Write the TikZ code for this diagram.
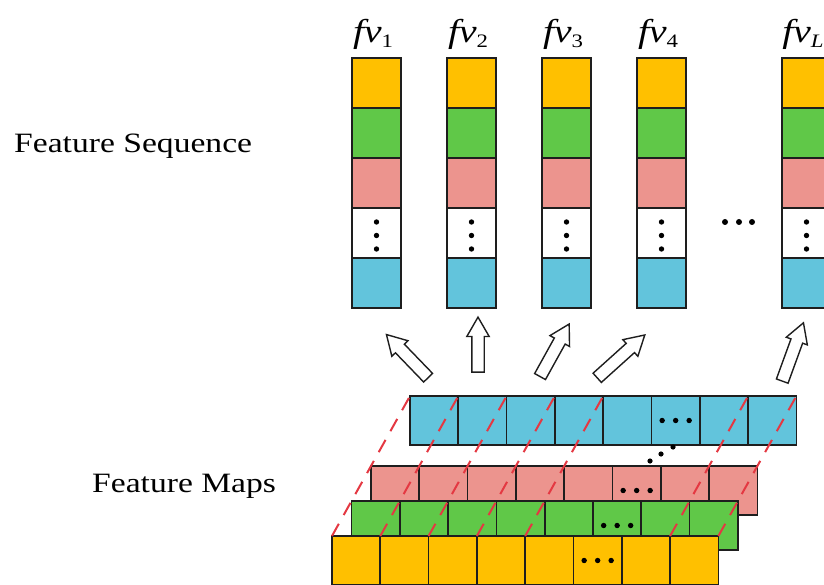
\documentclass[tikz,border=0pt]{standalone}
\usepackage{fontspec}
\setmainfont{Liberation Serif}[FakeStretch=1.2]
\usetikzlibrary{shapes.arrows}

\definecolor{cOrange}{RGB}{255,192,0}
\definecolor{cGreen}{RGB}{96,200,72}
\definecolor{cPink}{RGB}{236,148,142}
\definecolor{cBlue}{RGB}{98,196,220}
\definecolor{cDash}{RGB}{228,56,66}
\definecolor{cEdge}{RGB}{30,30,30}

\begin{document}
\begin{tikzpicture}[x=1pt,y=-1pt,
  seqcell/.style={draw=cEdge, line width=2pt, minimum width=49pt, minimum height=50pt,
    inner sep=0pt, outer sep=0pt, anchor=north west},
  mapcell/.style={draw=cEdge, line width=1.7pt, minimum width=48.3pt, minimum height=49pt,
    inner sep=0pt, outer sep=0pt, anchor=north west},
  hollowarrow/.style={single arrow, draw=cEdge, fill=white, line width=1.4pt,
    inner xsep=0pt, inner ysep=5.5pt, minimum width=0pt,
    single arrow head extend=5pt, single arrow tip angle=60, outer sep=0pt},
  reddash/.style={draw=cDash, line width=2pt, dash pattern=on 14pt off 10pt},
  bigtext/.style={font=\fontsize{28}{30}\selectfont, inner sep=0pt, anchor=base west},
  fvtext/.style={font=\fontsize{33}{36}\selectfont, inner sep=0pt, anchor=base}]

\useasboundingbox (0,0) rectangle (824,585);
\clip (0,0) rectangle (824,585);

% side labels
\node[bigtext] (seqlabel) at (14,153) {Feature Sequence};
\node[bigtext] (maplabel) at (92,492) {Feature Maps};

% feature sequence columns
\foreach \c/\x/\sub in {1/352/1, 2/447/2, 3/542/3, 4/637/4, L/782/{\itshape L}} {
  \foreach \r/\col in {1/cOrange, 2/cGreen, 3/cPink, 4/white, 5/cBlue}
    \node[seqcell, fill=\col] (s\c\r) at (\x, {58+50*(\r-1)}) {};
  \node[fvtext] (lab\c) at ({\x+21}, 43)
    {{\itshape fv}\raisebox{-5pt}{\fontsize{19}{19}\selectfont\sub}};
  \foreach \dy in {-11,2.5,16}
    \fill (s\c4.center) ++(0,\dy) circle (2.7pt);
}
% gap marker between the columns
\foreach \dx in {725,739,752}
  \fill (\dx,222) circle (3pt);

% stacked feature maps, back to front
\foreach \k/\col/\nm in {4/cBlue/b, 2/cPink/p, 1/cGreen/g, 0/cOrange/o} {
  \foreach \i in {0,...,7}
    \node[mapcell, fill=\col] (\nm\i) at ({332+19.5*\k+48.3*\i}, {536-35*\k}) {};
  \foreach \dx in {-13.5,0,13.5}
    \fill (\nm5.center) ++(\dx,0) circle (2.7pt);
}
% skipped layers
\fill (650,461) circle (2.6pt);
\fill (661,454) circle (2.6pt);
\fill (673,447) circle (2.6pt);

% depth guides through the stack
\foreach \i in {0,...,4,7}
  \draw[reddash] (o\i.north west) -- (b\i.north west);
\draw[reddash] (o7.north east) -- (b7.north east);

% mapping arrows
\node[hollowarrow, minimum height=60pt, rotate=134] (arr1) at (411,360) {};
\node[hollowarrow, minimum height=55pt, rotate=90]  (arr2) at (478,350) {};
\node[hollowarrow, minimum height=60pt, rotate=61]  (arr3) at (552,355) {};
\node[hollowarrow, minimum height=64pt, rotate=42]  (arr4) at (617,360) {};
\node[hollowarrow, minimum height=62pt, rotate=70]  (arr5) at (791,357) {};

\end{tikzpicture}
\end{document}
